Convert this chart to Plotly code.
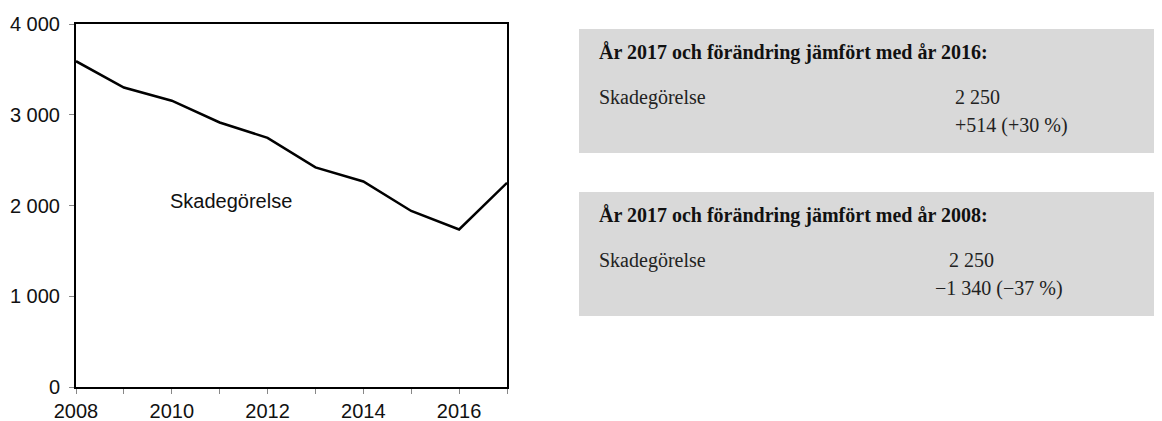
import plotly.graph_objects as go

years = [2008, 2009, 2010, 2011, 2012, 2013, 2014, 2015, 2016, 2017]
skadegorelse = [3590, 3300, 3155, 2915, 2745, 2420, 2265, 1940, 1736, 2250]
series_name = "Skadegörelse"
y_tickvals = [0, 1000, 2000, 3000, 4000]
y_ticktext = ["0", "1 000", "2 000", "3 000", "4 000"]
x_tickvals = [2008, 2010, 2012, 2014, 2016]

box1_title = "<b>År 2017 och förändring jämfört med år 2016:</b>"
box1_value = "2 250"
box1_change = "+514 (+30 %)"
box2_title = "<b>År 2017 och förändring jämfört med år 2008:</b>"
box2_value = "2 250"
box2_change = "−1 340 (−37 %)"

# page offset of the figure (browser body margin)
OFF = 8
W, H = 1162 - OFF, 421
# plot area in page pixel coordinates
L, R, T, B = 76, 507, 24, 387


def px(x):
    return (x - L) / (R - L)


def py(y):
    return (B - y) / (B - T)


fig = go.Figure()
fig.add_trace(go.Scatter(x=years, y=skadegorelse, mode="lines",
                         line=dict(color="black", width=2.5), name=series_name,
                         showlegend=False, cliponaxis=False))

fig.add_annotation(x=2011.24, y=2050, xref="x", yref="y", text=series_name,
                   showarrow=False, font=dict(family="Liberation Sans, Arial", size=20, color="#111"))

serif = "Liberation Serif, Times New Roman, serif"
boxes = [
    (29, 153, box1_title, box1_value, box1_change, 953, 953),
    (192, 316, box2_title, box2_value, box2_change, 947, 933),
]
for (top, bot, title, val, chg, xv, xc) in boxes:
    fig.add_shape(type="rect", xref="paper", yref="paper",
                  x0=px(579), x1=px(1162), y0=py(bot), y1=py(top),
                  fillcolor="#d9d9d9", line=dict(width=0), layer="below")
    fig.add_annotation(xref="paper", yref="paper", x=px(597), y=py(top + 23),
                       text=title, showarrow=False, xanchor="left", yanchor="middle",
                       font=dict(family=serif, size=20, color="#111"))
    fig.add_annotation(xref="paper", yref="paper", x=px(597), y=py(top + 68),
                       text=series_name, showarrow=False, xanchor="left", yanchor="middle",
                       font=dict(family=serif, size=20, color="#222"))
    fig.add_annotation(xref="paper", yref="paper", x=px(xv), y=py(top + 68),
                       text=val, showarrow=False, xanchor="left", yanchor="middle",
                       font=dict(family=serif, size=20, color="#222"))
    fig.add_annotation(xref="paper", yref="paper", x=px(xc), y=py(top + 96),
                       text=chg, showarrow=False, xanchor="left", yanchor="middle",
                       font=dict(family=serif, size=20, color="#222"))

y_font = dict(family="Liberation Sans, Arial", size=20, color="#111")
x_font = dict(family="Liberation Sans, Arial", size=20, color="#111")
fig.update_xaxes(range=[2008, 2017], tickvals=x_tickvals, ticks="outside", ticklen=5,
                 tickcolor="#888", tickwidth=1, automargin=False,
                 minor=dict(dtick=1, tick0=2008, ticks="outside", ticklen=5, tickcolor="#888"),
                 showline=True, linecolor="black", linewidth=2, mirror=True,
                 showgrid=False, zeroline=False, tickfont=x_font)
fig.update_yaxes(range=[0, 4000], tickvals=y_tickvals, ticktext=y_ticktext,
                 ticks="outside", ticklen=5, tickcolor="#888", tickwidth=1, automargin=False,
                 ticklabelstandoff=5,
                 showline=True, linecolor="black", linewidth=2, mirror=True,
                 showgrid=False, zeroline=False, tickfont=y_font)

fig.update_layout(width=W, height=H, plot_bgcolor="white", paper_bgcolor="white",
                  margin=dict(l=L - OFF, r=W + OFF - R, t=T - OFF, b=H + OFF - B),
                  showlegend=False)

fig.write_html("out.html")
